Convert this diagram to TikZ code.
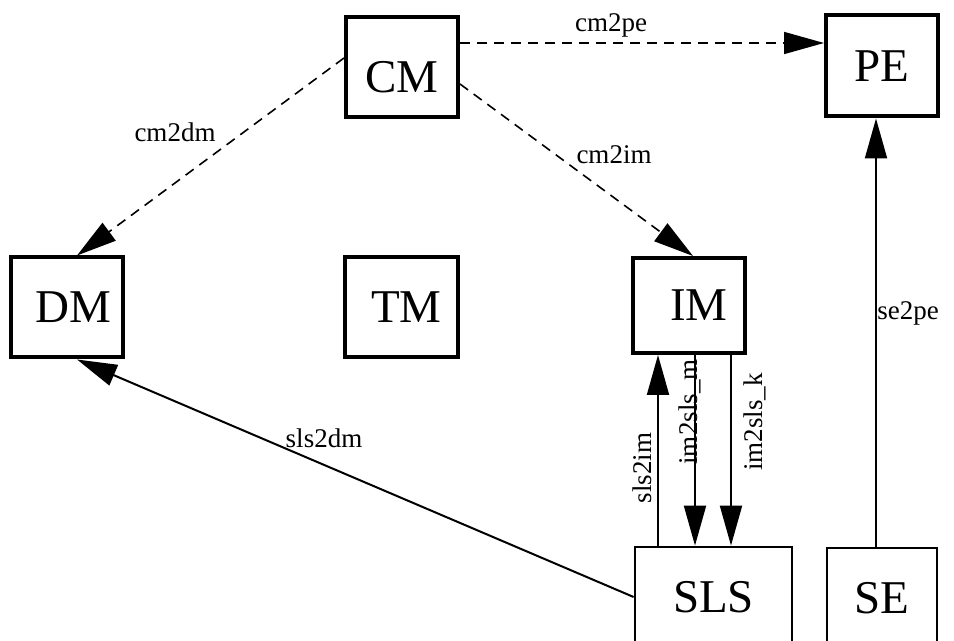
\documentclass[tikz,border=0pt]{standalone}
\usepackage{fontspec}
\setmainfont{Liberation Serif}
\usepackage{tikz}
\usetikzlibrary{arrows.meta}

\tikzset{
  module/.style={draw, line width=2pt, inner sep=0pt, minimum width=56pt,
    minimum height=50pt, font=\fontsize{23.5}{28}\selectfont},
  openmodule/.style={module, line width=1.4pt},
  link/.style={line width=1pt, -{Triangle[length=20pt,width=11pt]}},
  optlink/.style={link, line width=0.8pt, dash pattern=on 5pt off 3.5pt},
  linklabel/.style={font=\fontsize{13.5}{16}\selectfont, inner sep=0pt},
}

\begin{document}
\begin{tikzpicture}[x=0.5pt, y=-0.5pt]
    % frame of the picture
    \useasboundingbox (0,0) rectangle (954,641);
    \clip (0,0) rectangle (954,641);

    % the modules
    \node[module, text height=25.6pt] (CM) at (402,67) {CM};
    \node[module, minimum height=50.5pt] (PE) at (882,66) {PE};
    \node[module] (DM) at (67,307.5) {\hspace*{6pt}DM};
    \node[module, minimum width=56.5pt] (TM) at (401.5,307.5) {\hspace*{5pt}TM};
    \node[module, minimum height=47.5pt] (IM) at (689,305.5) {\hspace*{10pt}IM};

    % the two modules cut by the bottom edge
    \node[openmodule, minimum width=78.5pt] (SLS) at (713.5,597) {SLS};
    \node[openmodule, minimum width=55pt] (SE) at (882,598) {SE};

    % dashed connectors out of CM
    \draw[optlink] ([yshift=12pt]CM.east) -- ([yshift=11.5pt]PE.west);
    \draw[optlink] ([yshift=4.5pt]CM.west) -- ([xshift=5pt]DM.north);
    \draw[optlink] ([yshift=-8.5pt]CM.east) -- ([xshift=2pt]IM.north);

    % solid connectors
    \draw[link] ([xshift=-3pt]SE.north) -- ([xshift=-3pt]PE.south);
    \draw[link] (SLS.west) -- ([xshift=5pt]DM.south);
    \draw[link] ([xshift=-27.75pt]SLS.north) -- ([xshift=-15.5pt]IM.south);
    \draw[link] ([xshift=3pt]IM.south) -- ([xshift=-9.25pt]SLS.north);
    \draw[link] ([xshift=21pt]IM.south) -- ([xshift=8.75pt]SLS.north);

    % the connector labels
    \node[linklabel] (lcm2pe) at (611,25) {cm2pe};
    \node[linklabel] (lcm2dm) at (175,132) {cm2dm};
    \node[linklabel] (lcm2im) at (614,155) {cm2im};
    \node[linklabel] (lse2pe) at (908,313) {se2pe};
    \node[linklabel] (lsls2dm) at (324,438) {sls2dm};
    \node[linklabel, rotate=90] (lsls2im) at (642,468) {sls2im};
    \node[linklabel, rotate=90] (lim2slsm) at (690,412) {im2sls\_m};
    \node[linklabel, rotate=90] (lim2slsk) at (755,422) {im2sls\_k};
\end{tikzpicture}
\end{document}
